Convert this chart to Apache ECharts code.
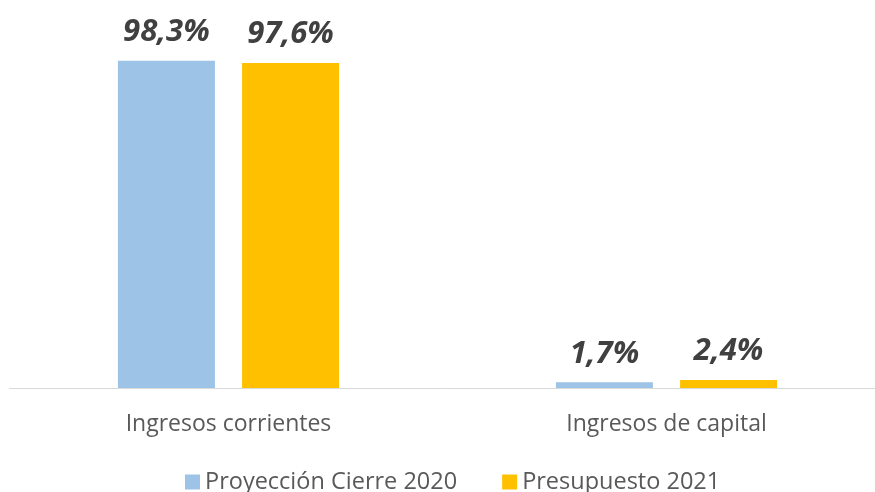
<!DOCTYPE html>
<html>
<head>
<meta charset="utf-8">
<script src="https://cdn.jsdelivr.net/npm/echarts@6/dist/echarts.min.js"></script>
<style>
  html, body { margin: 0; padding: 0; background: #fff; }
  #chart { width: 875px; height: 492px; }
</style>
</head>
<body>
<div id="chart"></div>
<script>
  // datos
  const categories = ['Ingresos corrientes', 'Ingresos de capital'];
  const seriesNames = ['Proyección Cierre 2020', 'Presupuesto 2021'];
  const cierre2020 = [98.3, 1.7];
  const presupuesto2021 = [97.6, 2.4];
  const colors = ['#9DC3E6', '#FFC000'];

  const fmt = p => p.value.toFixed(1).replace('.', ',') + '%';

  const labelStyle = {
    show: true,
    position: 'top',
    distance: 13,
    formatter: fmt,
    fontFamily: 'Open Sans',
    fontWeight: 'bold',
    fontStyle: 'italic',
    fontSize: 31,
    color: '#404040'
  };

  const chart = echarts.init(document.getElementById('chart'));
  chart.setOption({
    animation: false,
    textStyle: { fontFamily: 'Open Sans' },
    grid: { left: 9.5, width: 876, top: 55, bottom: 104, outerBoundsMode: 'none', containLabel: false },
    legend: {
      bottom: -7,
      left: 180,
      itemWidth: 15,
      itemHeight: 15,
      itemGap: 45,
      icon: 'rect',
      textStyle: { fontSize: 23.5, color: '#595959', fontFamily: 'Open Sans' },
      data: seriesNames
    },
    xAxis: {
      type: 'category',
      data: categories,
      axisLine: { lineStyle: { color: '#d9d9d9', width: 1 } },
      axisTick: { show: false },
      axisLabel: { fontSize: 23, color: '#595959', margin: 25 }
    },
    yAxis: {
      type: 'value',
      min: 0,
      max: 100,
      show: false,
      splitLine: { show: false }
    },
    series: [
      {
        name: seriesNames[0],
        type: 'bar',
        data: cierre2020,
        barWidth: 97,
        barGap: '28%',
        itemStyle: { color: colors[0] },
        label: labelStyle
      },
      {
        name: seriesNames[1],
        type: 'bar',
        data: presupuesto2021,
        barWidth: 97,
        itemStyle: { color: colors[1] },
        label: labelStyle
      }
    ]
  });
</script>
</body>
</html>
